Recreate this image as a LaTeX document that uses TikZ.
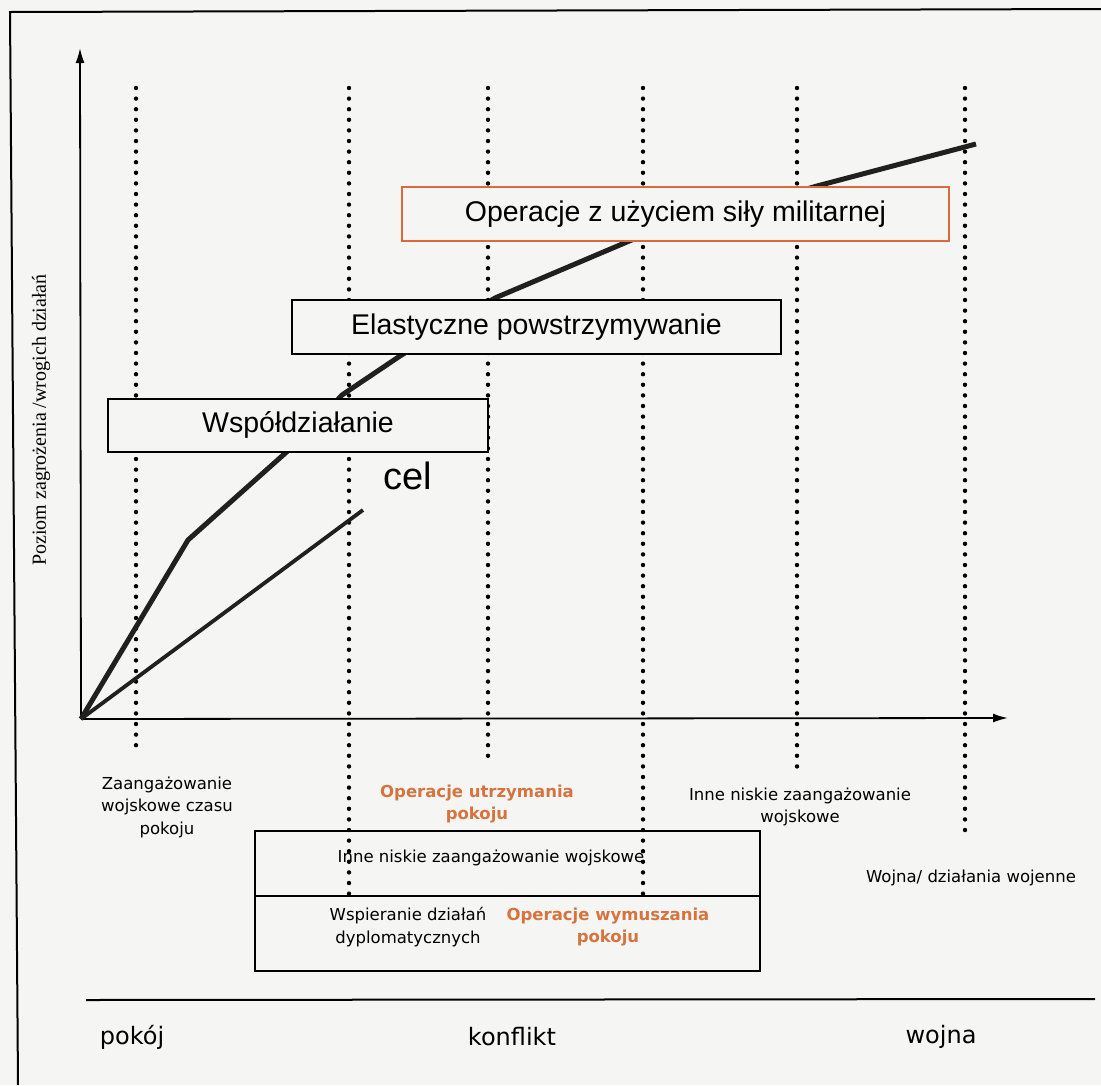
\documentclass[tikz,border=0pt]{standalone}
\usepackage{fontspec}
\setmainfont{Liberation Sans}
\newfontfamily\labfont{DejaVu Sans}
\newfontfamily\axfont{Liberation Serif}
\usepackage{tikz}
\usetikzlibrary{arrows.meta}
\definecolor{paper}{RGB}{245, 245, 243}
\definecolor{ink}{RGB}{32, 32, 32}
\definecolor{ops}{RGB}{222, 104, 62}
\definecolor{opstext}{RGB}{214, 116, 64}

\begin{document}
\begin{tikzpicture}[x=1pt, y=-1pt, thick,
  stagebox/.style={draw=black, line width=2pt, fill=paper, inner sep=0pt,
    minimum height=54pt, font=\fontsize{28.5}{34}\selectfont},
  lab/.style={align=center, inner sep=0pt, font=\labfont\fontsize{16.5}{22.5}\selectfont},
  oplab/.style={align=center, inner sep=0pt, text=opstext,
    font=\labfont\bfseries\fontsize{16.5}{22.5}\selectfont},
  era/.style={inner sep=0pt, font=\labfont\fontsize{24}{28}\selectfont},
  dots/.style={line width=4.4pt, line cap=round, dash pattern=on 0pt off 10.6pt}]
  \fill [paper] (0, 0) rectangle (1101, 1085);
  \useasboundingbox (0, 0) rectangle (1101, 1085);

  % Frame
  \draw [line width=2pt] (18, 1085) -- (10, 12) -- (1101, 9);

  % Stage borders
  \foreach \x/\b in {136/747, 349/900, 488/757, 643/900, 797/767, 965/833} {
    \draw [dots] (\x, 88) -- (\x, \b);
  }

  % Axes
  \coordinate (o) at (81, 719);
  \coordinate (ytop) at (80, 48);
  \coordinate (xend) at (1008, 718);
  \draw [line width=1.8pt, -{Latex[length=15pt, width=9pt]}] (o) -- (ytop);
  \draw [line width=1.8pt, -{Latex[length=15pt, width=9pt]}] (o) -- (xend);
  \node [rotate=90, inner sep=0pt, font=\axfont\fontsize{20}{24}\selectfont] (poziom) at (41, 420)
    {Poziom zagrożenia /wrogich działań};

  % Escalation path
  \coordinate (k1) at (188, 540);
  \coordinate (k2) at (300, 440);
  \coordinate (k3) at (342, 395);
  \coordinate (k4) at (400, 356);
  \coordinate (k5) at (495, 298);
  \coordinate (k6) at (634, 239);
  \coordinate (k7) at (817, 186);
  \coordinate (k8) at (976, 144);
  \coordinate (c1) at (363, 510);
  \draw [ink, line width=5pt, line join=round] (o) -- (k1) -- (k2) -- (k3) -- (k4) -- (k5) -- (k6) -- (k7) -- (k8);
  \draw [ink, line width=3.8pt] (o) -- (c1);

  % Stages
  \node [stagebox, draw=ops, minimum width=547pt] (sila) at (675.5, 214) {Operacje z użyciem siły militarnej};
  \node [stagebox, minimum width=489pt] (elast) at (536.5, 327) {Elastyczne powstrzymywanie};
  \node [stagebox, minimum width=380pt, minimum height=53pt] (wspol) at (298, 425) {Współdziałanie};
  \node [anchor=base, inner sep=0pt, font=\fontsize{38}{40}\selectfont] (cel) at (408, 489) {cel};

  % Engagement labels
  \node [lab] (czas) at (167, 807) {Zaangażowanie\\wojskowe czasu\\pokoju};
  \node [oplab] (utrz) at (477, 804) {Operacje utrzymania\\pokoju};
  \node [lab] (inne) at (800, 807) {Inne niskie zaangażowanie\\wojskowe};

  \draw [line width=2pt] (255, 831) rectangle (760, 971);
  \draw [line width=2pt] (255, 896) -- (760, 896);
  \node [lab] (niskie) at (491, 858) {Inne niskie zaangażowanie wojskowe};
  \node [lab] (dyplo) at (408, 927) {Wspieranie działań\\dyplomatycznych};
  \node [oplab] (wymus) at (608, 927) {Operacje wymuszania\\pokoju};
  \node [lab] (wojenne) at (971, 878) {Wojna/ działania wojenne};

  % Eras
  \draw [line width=2pt] (86, 1000) -- (1095, 999);
  \node [era] (pokoj) at (132, 1037) {pokój};
  \node [era] (konflikt) at (512, 1037) {konflikt};
  \node [era] (wojna) at (941, 1037) {wojna};
\end{tikzpicture}
\end{document}
